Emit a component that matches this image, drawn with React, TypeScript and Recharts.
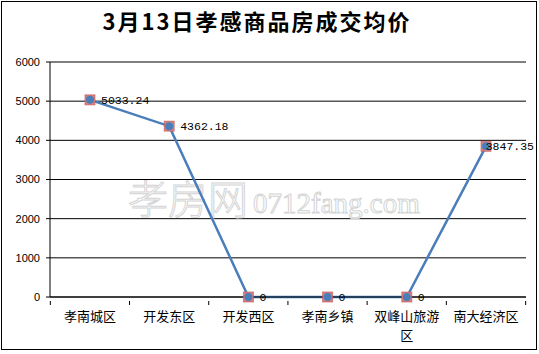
import { CartesianGrid, Customized, LabelList, Line, LineChart, XAxis, YAxis } from "recharts";

const districts = ["孝南城区", "开发东区", "开发西区", "孝南乡镇", "双峰山旅游区", "南大经济区"];
const avgPrice = [5033.24, 4362.18, 0, 0, 0, 3847.35];
const yTicks = [0, 1000, 2000, 3000, 4000, 5000, 6000];

const title = "3月13日孝感商品房成交均价";

const data = districts.map((name, i) => ({ name, price: avgPrice[i] }));

const CJK = '"Noto Sans CJK SC", "Noto Sans", sans-serif';
const MONO = '"Liberation Mono", "DejaVu Sans Mono", monospace';

function CategoryTick(props: any) {
  const { x, y, payload, width, visibleTicksCount, index } = props;
  const half = width / visibleTicksCount / 2;
  const label: string = payload.value;
  const lines = label.length > 5 ? [label.slice(0, 5), label.slice(5)] : [label];
  return (
    <g>
      <line x1={x - half} x2={x - half} y1={y - 4} y2={y} stroke="#000" />
      {index === visibleTicksCount - 1 && (
        <line x1={x + half} x2={x + half} y1={y - 4} y2={y} stroke="#000" />
      )}
      {lines.map((t, i) => (
        <text key={i} x={x} y={y + 16 + i * 19} textAnchor="middle" fontSize={13} fontFamily={CJK} fill="#000">
          {t}
        </text>
      ))}
    </g>
  );
}

function Marker(props: any) {
  const { cx, cy } = props;
  if (cx == null || cy == null) return null;
  return (
    <g>
      <rect x={cx - 5} y={cy - 5} width={10} height={10} fill="#d9817f" stroke="#c0504d" strokeOpacity={0.6} />
      <circle cx={cx} cy={cy} r={4} fill="#4a7ebb" />
    </g>
  );
}

function ValueLabel(props: any) {
  const { x, y, value } = props;
  const text = String(value);
  const w = text.length * 6.9;
  let tx = x + 11;
  if (tx + w > 534) tx = 534 - w;
  return (
    <text x={tx} y={y + 4} fontSize={11.5} fontFamily={MONO} fill="#000">
      {text}
    </text>
  );
}

function Watermark() {
  return (
    <g fill="#fff" stroke="#d4d4d4" strokeWidth={1}>
      <text x={128} y={214} fontSize={40} fontFamily={CJK} fontWeight={300}>
        孝房网
      </text>
      <text x={253} y={213} fontSize={29} fontFamily='"Liberation Serif", serif'>
        0712fang.com
      </text>
    </g>
  );
}

export default function App() {
  return (
    <div style={{ position: "absolute", left: 0, top: 0, width: 539, height: 354, background: "#fff" }}>
      <div
        style={{
          position: "absolute",
          left: 1,
          top: 1,
          width: 534,
          height: 347,
          border: "1.5px solid #000",
        }}
      />
      <div
        style={{
          position: "absolute",
          left: 0,
          top: 5,
          width: 514,
          textAlign: "center",
          fontFamily: CJK,
          fontWeight: 700,
          fontSize: 22,
          letterSpacing: 2,
          color: "#000",
          lineHeight: "30px",
        }}
      >
        {title}
      </div>
      <div style={{ position: "absolute", left: 0, top: 0 }}>
        <LineChart width={539} height={354} data={data} margin={{ top: 62, right: 13, left: 0, bottom: 0 }}>
          <CartesianGrid vertical={false} stroke="#000" />
          <XAxis
            dataKey="name"
            height={57}
            padding={{ left: 40, right: 40 }}
            axisLine={{ stroke: "#000" }}
            tickLine={false}
            tick={<CategoryTick />}
            interval={0}
          />
          <YAxis
            width={50}
            domain={[0, 6000]}
            ticks={yTicks}
            axisLine={{ stroke: "#000" }}
            tickLine={{ stroke: "#000" }}
            tickSize={4}
            tickMargin={6}
            tick={{ fontSize: 11, fill: "#000", fontFamily: '"Liberation Sans", Arial, sans-serif' }}
          />
          <Customized component={Watermark} />
          <Line
            dataKey="price"
            stroke="#4a7ebb"
            strokeWidth={2.5}
            dot={<Marker />}
            activeDot={false}
            isAnimationActive={false}
          >
            <LabelList dataKey="price" content={<ValueLabel />} />
          </Line>
        </LineChart>
      </div>
    </div>
  );
}
